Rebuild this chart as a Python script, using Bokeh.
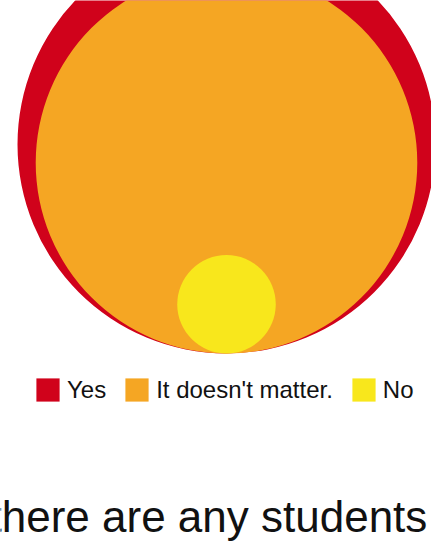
import math
from bokeh.plotting import figure
from bokeh.models import Legend, LegendItem, Label, ColumnDataSource, Range1d
from bokeh.embed import file_html
from bokeh.resources import INLINE

# ---- data ----
categories = ["Yes", "It doesn't matter.", "No"]
values = [18, 15, 1]
colors = ["#D0021B", "#F5A623", "#F8E71C"]
title_line1 = "there are any students"
title_line2 = "from other countries in your class?"

# ---- layout ----
W, H = 431, 554
R_MAX = 209          # pixel radius of the largest bubble
OX, OY = 226, 353    # pixel position of the common bottom tangent point

vmax = max(values)
radii = [R_MAX * math.sqrt(v / vmax) for v in values]
src = ColumnDataSource(dict(x=[0] * len(values), y=radii, r=radii, color=colors))

p = figure(width=W, height=H, output_backend="svg", toolbar_location=None,
           x_range=Range1d(-OX, W - OX), y_range=Range1d(OY - H, OY),
           x_axis_type=None, y_axis_type=None, min_border=0,
           outline_line_color=None)
p.grid.visible = False

p.circle("x", "y", radius="r", fill_color="color", line_color=None, source=src)

# legend swatches (not drawn in the plot: NaN coordinates)
nan = float("nan")
lsrc = ColumnDataSource(dict(l=[nan] * 3, r=[nan] * 3, t=[nan] * 3, b=[nan] * 3, color=colors))
qr = p.quad(left="l", right="r", top="t", bottom="b", fill_color="color",
            line_color=None, source=lsrc)
items = [LegendItem(label=cat, renderers=[qr], index=i) for i, cat in enumerate(categories)]

legend = Legend(items=items, orientation="horizontal", location=(33, 150),
                glyph_width=29, glyph_height=29, label_height=29,
                label_standoff=5, spacing=16, padding=0, margin=0,
                border_line_color=None, background_fill_alpha=0,
                label_text_font="Liberation Sans", label_text_font_size="24px",
                label_text_color="#111111")
p.add_layout(legend)

for txt, yb in [(title_line1, 38), (title_line2, -16)]:
    p.add_layout(Label(x=-11, y=yb, x_units="screen", y_units="screen", text=txt,
                       text_font="Liberation Sans", text_font_size="44px",
                       text_color="#111111", text_baseline="alphabetic"))

open("out.html", "w").write(file_html(p, INLINE))
